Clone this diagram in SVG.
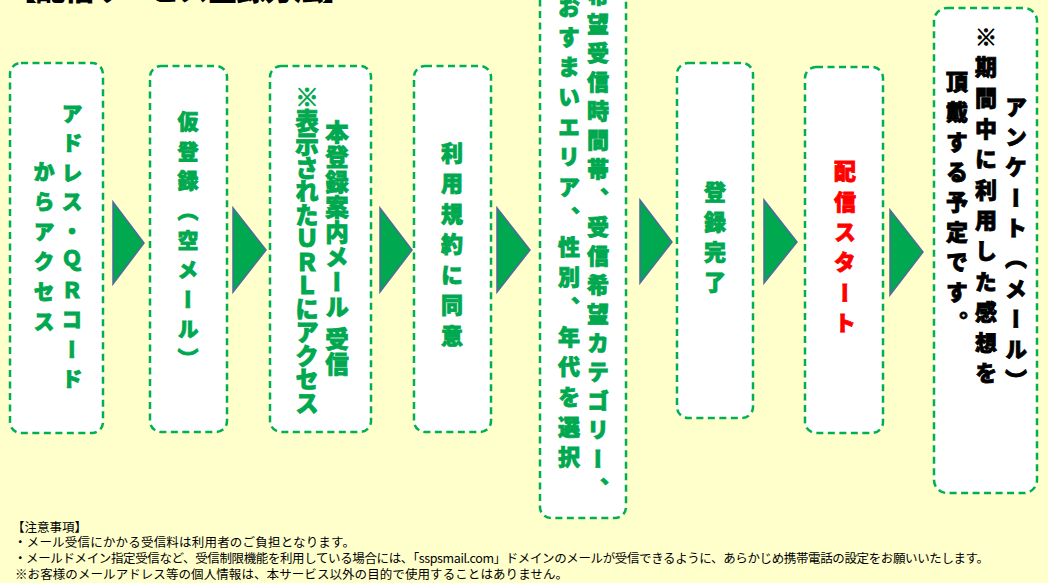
<svg xmlns="http://www.w3.org/2000/svg" width="1048" height="583" viewBox="0 0 1048 583">
<style>
.box{fill:#FFFFFF;stroke:#00B050;stroke-width:2.5;stroke-dasharray:7 4.5}
.arr{fill:#00A84F;stroke:#4F6B9E;stroke-width:1.5;stroke-linejoin:miter}
.v{writing-mode:vertical-rl;font-family:"Noto Sans CJK JP","Noto Sans CJK SC",sans-serif;font-weight:900;text-anchor:middle;fill:#00A84F;stroke:#00A84F;stroke-width:0.8}
.red{fill:#FF0000;stroke:#FF0000}
.blk{fill:#000000;stroke:#000000}
.note{font-family:"Noto Sans CJK JP","Noto Sans CJK SC",sans-serif;font-size:12.5px;fill:#000000}
</style>
<rect x="0" y="0" width="1048" height="583" fill="#FFFFCC"/>
<text x="7" y="0" font-family="Noto Sans CJK JP, sans-serif" font-weight="900" font-size="30" textLength="345" fill="#000">【配信サービス登録方法】</text>
<g id="connectors">
<polygon class="arr" points="113,202 113,284 144,243"/>
<polygon class="arr" points="233,208 233,292 266,250"/>
<polygon class="arr" points="380,208 380,292 412,250"/>
<polygon class="arr" points="497,208 497,292 530,250"/>
<polygon class="arr" points="640,200 640,283 672,242"/>
<polygon class="arr" points="764,200 764,283 797,242"/>
<polygon class="arr" points="890,210 890,295 923,252"/>
</g>
<g id="n1">
<rect class="box" x="10" y="63" width="93" height="370" rx="11"/>
<text class="v" x="72" y="250" font-size="21" letter-spacing="8.5">アドレス・ＱＲコード</text>
<text class="v" x="44" y="251" font-size="21" letter-spacing="9">からアクセス</text>
</g>
<g id="n2">
<rect class="box" x="150" y="66" width="77" height="366" rx="11"/>
<text class="v" x="188" y="244" font-size="21" letter-spacing="8.6">仮登録（空メール）</text>
</g>
<g id="n3">
<rect class="box" x="270" y="66" width="101" height="366" rx="11"/>
<text class="v" x="337" y="249" font-size="23.5" letter-spacing="1.5">本登録案内メール 受信</text>
<text class="v" x="307" y="250" font-size="23.5">※表示されたＵＲＬにアクセス</text>
</g>
<g id="n4">
<rect class="box" x="414" y="66" width="77" height="366" rx="11"/>
<text class="v" x="452" y="248" font-size="22" letter-spacing="8.5">利用規約に同意</text>
</g>
<g id="n5">
<rect class="box" x="540" y="-20" width="86" height="538" rx="11"/>
<text class="v" x="598" y="245" font-size="22" letter-spacing="7">希望受信時間帯、受信希望カテゴリー、</text>
<text class="v" x="569" y="236" font-size="22" letter-spacing="8">おすまいエリア、性別、年代を選択</text>
</g>
<g id="n6">
<rect class="box" x="677" y="63" width="76" height="355" rx="11"/>
<text class="v" x="715" y="241" font-size="22" letter-spacing="8">登録完了</text>
</g>
<g id="n7">
<rect class="box" x="805" y="67" width="78" height="366" rx="11"/>
<text class="v red" x="845" y="251" font-size="22" letter-spacing="8.3">配信スタート</text>
</g>
<g id="n8">
<rect class="box" x="934" y="8" width="103" height="485" rx="13"/>
<text class="v blk" x="1016" y="247" font-size="22" letter-spacing="8.3">アンケート（メール）</text>
<text class="v blk" x="986" y="209" font-size="22" letter-spacing="8.6">※期間中に利用した感想を</text>
<text class="v blk" x="957" y="206" font-size="22" letter-spacing="8">頂戴する予定です。</text>
</g>
<g id="notes">
<text class="note" x="12" y="532">【注意事項】</text>
<text class="note" x="14" y="547" textLength="341">・メール受信にかかる受信料は利用者のご負担となります。</text>
<text class="note" x="14" y="563" textLength="975">・メールドメイン指定受信など、受信制限機能を利用している場合には、「sspsmail.com」ドメインのメールが受信できるように、あらかじめ携帯電話の設定をお願いいたします。</text>
<text class="note" x="15" y="579" textLength="553">※お客様のメールアドレス等の個人情報は、本サービス以外の目的で使用することはありません。</text>
</g>
</svg>
